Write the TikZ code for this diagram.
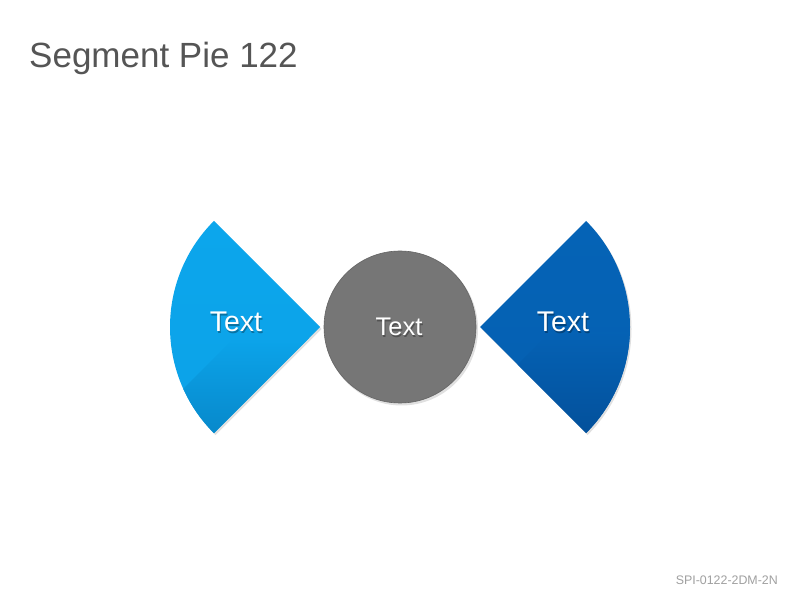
\documentclass[tikz,border=0pt]{standalone}
\usepackage{fontspec}
\setmainfont{Liberation Sans}
\definecolor{lblue}{HTML}{0CA6EC}
\definecolor{lbluedk}{HTML}{0786C8}
\definecolor{dblue}{HTML}{0563B6}
\definecolor{dbluedk}{HTML}{034F99}
\definecolor{cgray}{HTML}{767676}
\definecolor{titlegray}{HTML}{555555}
\definecolor{footgray}{HTML}{A0A0A0}
\begin{document}
\begin{tikzpicture}[x=1pt,y=1pt,
  lbl/.style={text=white,font=\fontsize{28.5}{32}\selectfont,inner sep=0},
  clbl/.style={text=white,font=\fontsize{25.5}{29}\selectfont,inner sep=0},
  tshadow/.style={text=black,opacity=0.3},
  shapeshadow/.style={fill=black,opacity=0.12}]
\useasboundingbox (0,0) rectangle (800,600);
\fill[white] (0,0) rectangle (800,600);
% ---- left wedge
\coordinate (LA) at (320,273);
\fill[shapeshadow] (321.5,271) -- ++(135:150) arc[start angle=135,end angle=225,radius=150] -- cycle;
\begin{scope}
  \clip (LA) -- ++(135:150) arc[start angle=135,end angle=225,radius=150] -- cycle;
  \shade[top color=lblue, bottom color=lblue!88!lbluedk] (150,166) rectangle (340,380);
  \shade[top color=lblue!94!lbluedk, bottom color=lbluedk]
    (130,158) -- (234,262) -- (340,262) -- (340,158) -- cycle;
\end{scope}
% ---- right wedge
\coordinate (RA) at (480,273);
\fill[shapeshadow] (481.5,271) -- ++(-45:150) arc[start angle=-45,end angle=45,radius=150] -- cycle;
\begin{scope}
  \clip (RA) -- ++(-45:150) arc[start angle=-45,end angle=45,radius=150] -- cycle;
  \shade[top color=dblue, bottom color=dblue!85!dbluedk] (460,166) rectangle (660,380);
  \shade[top color=dblue!94!dbluedk, bottom color=dbluedk]
    (440,158) -- (550,268) -- (660,268) -- (660,158) -- cycle;
\end{scope}
% ---- circle
\fill[shapeshadow] (401.5,271) circle[radius=76.5];
\node[circle,minimum size=152,inner sep=0,fill=cgray,draw=cgray!85!black,line width=0.6] (c) at (400,273) {};
% ---- labels
\node[lbl,tshadow] (lts) at (237,276.5) {Text};
\node[lbl] (lt) at (236,278) {Text};
\node[lbl,tshadow] (rts) at (564,276.5) {Text};
\node[lbl] (rt) at (563,278) {Text};
\node[clbl,tshadow] (cts) at (400,271.5) {Text};
\node[clbl] (ct) at (399,273) {Text};
% ---- title and footer
\node[anchor=base west,inner sep=0,text=titlegray,font=\fontsize{35}{40}\selectfont] (title) at (29,532) {Segment Pie 122};
\node[anchor=base east,inner sep=0,text=footgray,font=\fontsize{12.4}{14}\selectfont] (foot) at (778,16) {SPI-0122-2DM-2N};
\end{tikzpicture}
\end{document}
